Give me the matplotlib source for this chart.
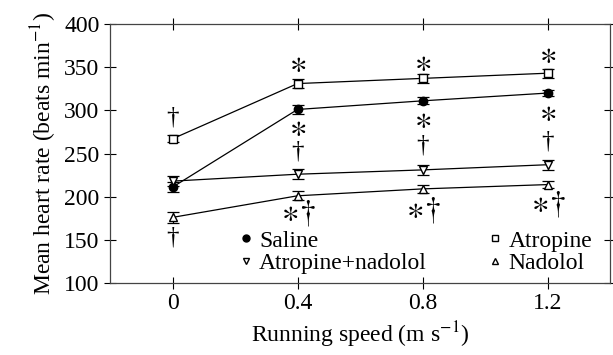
import numpy as np
import matplotlib
matplotlib.use("Agg")
import matplotlib.pyplot as plt
from matplotlib.lines import Line2D

plt.rcParams['font.family'] = ['Liberation Serif', 'DejaVu Serif']
plt.rcParams['mathtext.fontset'] = 'stix'

speed = [0, 0.4, 0.8, 1.2]
saline = [211, 301, 311, 320]
atropine = [267, 331, 337, 343]
atr_nad = [218, 226, 231, 237]
nadolol = [176, 201, 209, 214]
saline_err = [6, 5, 4, 3]
atropine_err = [4, 5, 5, 5]
atr_nad_err = [6, 6, 6, 6]
nadolol_err = [6, 5, 5, 4]

# significance marks: (x, y, text)
marks = [
    (0, 292, '†'), (0, 153, '†'),
    (0.4, 355, '*'), (0.4, 282, '*'), (0.4, 252, '†'), (0.4, 181, '*†'),
    (0.8, 357, '*'), (0.8, 291, '*'), (0.8, 259, '†'), (0.8, 184, '*†'),
    (1.2, 366, '*'), (1.2, 299, '*'), (1.2, 264, '†'), (1.2, 191, '*†'),
]

fig = plt.figure(figsize=(6.13, 3.55), dpi=100)
ax = fig.add_axes([110/613, 1-283/355, 500/613, 259/355])

kw = dict(color='black', lw=0.9, capsize=4, elinewidth=0.9, capthick=0.9, ms=6)
ax.errorbar(speed, saline, yerr=saline_err, fmt='-o', mfc='black', mec='black', **kw)
ax.errorbar(speed, atropine, yerr=atropine_err, fmt='-s', mfc='white', mec='black', **kw)
ax.errorbar(speed, atr_nad, yerr=atr_nad_err, fmt='-v', mfc='white', mec='black', **kw)
ax.errorbar(speed, nadolol, yerr=nadolol_err, fmt='-^', mfc='white', mec='black', **kw)

for x, y, t in marks:
    if t == '*':
        ax.annotate(r'$\ast$', (x, y), xytext=(0, -1), textcoords='offset points',
                    ha='center', va='center', fontsize=24)
    elif t == '†':
        ax.annotate('†', (x, y), ha='center', va='center', fontsize=18)
    else:
        ax.annotate(r'$\ast\!\dagger$', (x, y), xytext=(1, 0), textcoords='offset points',
                    ha='center', va='center', fontsize=24)

ax.set_xlim(-0.2, 1.4)
ax.set_ylim(100, 400)
ax.set_xticks(speed)
ax.set_xticklabels(['0', '0.4', '0.8', '1.2'])
ax.set_yticks(range(100, 401, 50))
ax.tick_params(labelsize=17, direction='inout', length=8, width=0.8)
ax.tick_params(top=True, right=True)
for s in ax.spines.values():
    s.set_linewidth(0.9)
    s.set_color('#444444')

ax.set_xlabel('Running speed (m s$^{-1}$)', fontsize=17)
ax.set_ylabel('Mean heart rate (beats min$^{-1}$)', fontsize=17)

handles = [Line2D([], [], ls='none', marker=m, mfc=c, mec='black', ms=5)
           for m, c in [('o', 'black'), ('v', 'white'), ('s', 'white'), ('^', 'white')]]
labels = ['Saline', 'Atropine+nadolol', 'Atropine', 'Nadolol']
ax.legend(handles, labels, ncol=2, loc='lower left', bbox_to_anchor=(0.225, -0.03),
          frameon=False, fontsize=17, handlelength=0.6, handletextpad=0.25,
          columnspacing=2.6, labelspacing=0.05, borderpad=0.2)

fig.savefig('out.png', dpi=100)
